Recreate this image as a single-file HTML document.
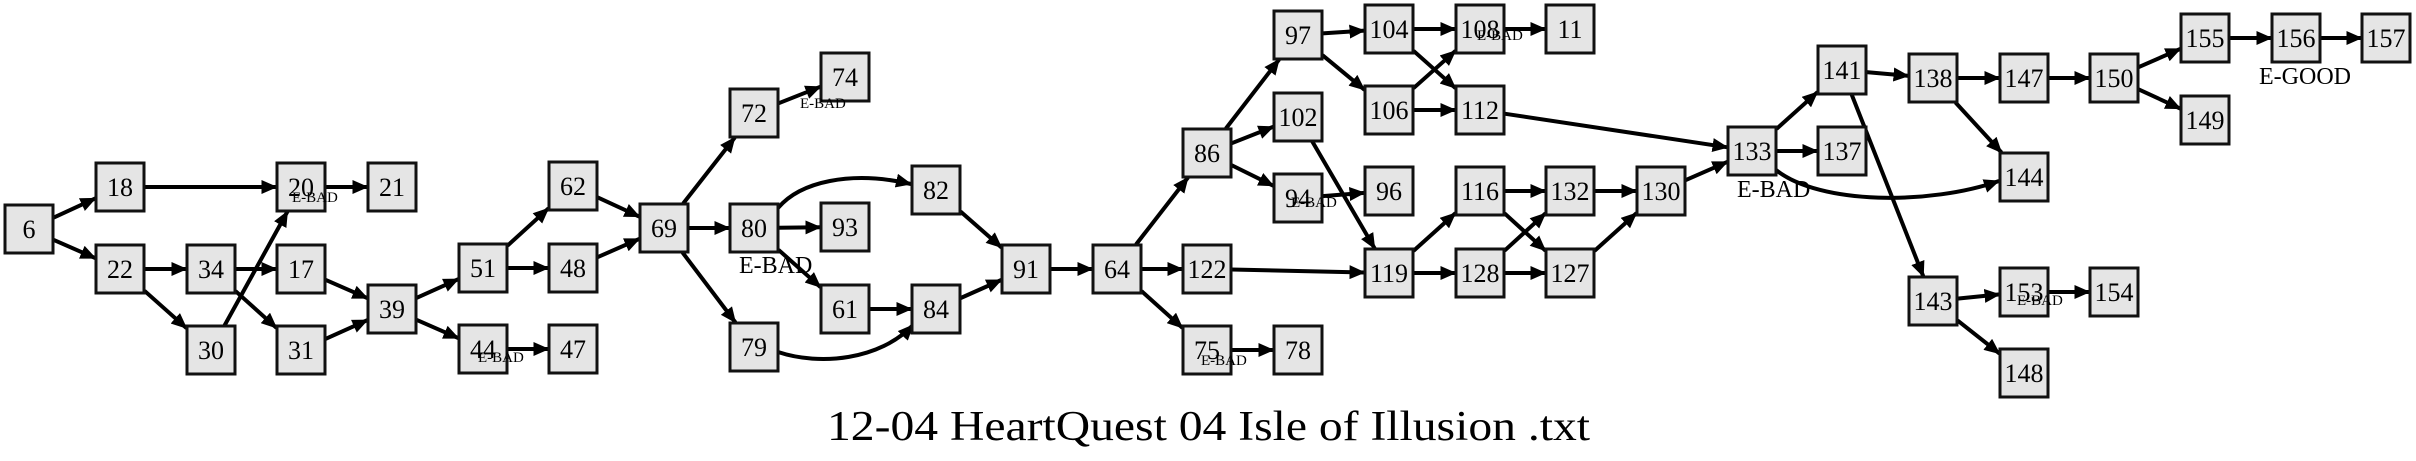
<!DOCTYPE html>
<html><head><meta charset="utf-8"><style>
html,body{margin:0;padding:0;background:#fff;}
svg{display:block;}
text{font-family:"Liberation Serif",serif;fill:#000;}
</style></head><body>
<svg id="g" width="2416" height="461" viewBox="0 0 2416 461" xmlns="http://www.w3.org/2000/svg">
<defs><marker id="a" markerUnits="userSpaceOnUse" markerWidth="16" markerHeight="14" refX="15" refY="7" orient="auto"><path d="M0,0 L16,7 L0,14 z" fill="#000"/></marker></defs>
<g id="edges" stroke="#000" stroke-width="4" fill="none"></g>
<g id="nodes"></g>
<g id="labels" font-size="15">
<text x="292" y="202">E-BAD</text>
<text x="478" y="362">E-BAD</text>
<text x="800" y="108">E-BAD</text>
<text x="1291" y="207">E-BAD</text>
<text x="1477" y="40">E-BAD</text>
<text x="1201" y="365">E-BAD</text>
<text x="2017" y="305">E-BAD</text>
</g>
<text x="739" y="273" font-size="24">E-BAD</text>
<text x="1737" y="197" font-size="24">E-BAD</text>
<text x="2259" y="84" font-size="24">E-GOOD</text>
<text x="827" y="440" font-size="42" textLength="763" lengthAdjust="spacingAndGlyphs">12-04 HeartQuest 04 Isle of Illusion .txt</text>
</svg>
<script>
var N={
"6":[29,229],"18":[120,187],"22":[120,269],"20":[301,187],"21":[392,187],"34":[211,269],"17":[301,269],
"30":[211,350],"31":[301,350],"39":[392,309],"51":[483,268],"62":[573,186],"48":[573,268],"44":[483,349],
"47":[573,349],"69":[664,228],"72":[754,113],"80":[754,228],"79":[754,347],"74":[845,77],"93":[845,227],
"61":[845,309],"82":[936,190],"84":[936,309],"91":[1026,269],"64":[1117,269],"122":[1207,269],"86":[1207,153],
"75":[1207,350],"78":[1298,350],"97":[1298,35],"102":[1298,117],"94":[1298,198],"104":[1389,29],"106":[1389,110],
"96":[1389,191],"119":[1389,273],"108":[1480,29],"11":[1570,29],"112":[1480,110],"116":[1480,191],"128":[1480,273],
"132":[1570,191],"127":[1570,273],"130":[1661,191],"133":[1752,151],"137":[1842,151],"141":[1842,70],"138":[1933,78],
"147":[2024,78],"150":[2114,78],"144":[2024,177],"155":[2205,38],"156":[2296,38],"157":[2386,38],"149":[2205,120],
"143":[1933,301],"153":[2024,292],"154":[2114,292],"148":[2024,373]};
var E=[["6","18"],["6","22"],["18","20"],["20","21"],["22","34"],["22","30"],["34","17"],["34","31"],["30","20"],
["17","39"],["31","39"],["39","51"],["39","44"],["44","47"],["51","62"],["51","48"],["62","69"],["48","69"],
["69","72"],["69","80"],["69","79"],["72","74"],["80","93"],["80","61"],["61","84"],["82","91"],["84","91"],
["91","64"],["64","86"],["64","122"],["64","75"],["75","78"],["86","97"],["86","102"],["86","94"],["94","96"],
["102","119"],["97","104"],["97","106"],["104","108"],["104","112"],["106","108"],["106","112"],["108","11"],
["122","119"],["119","116"],["119","128"],["116","132"],["116","127"],["128","132"],["128","127"],["132","130"],
["127","130"],["130","133"],["112","133"],["133","141"],["133","137"],["141","138"],["141","143"],["138","147"],
["138","144"],["147","150"],["150","155"],["150","149"],["155","156"],["156","157"],["143","153"],["143","148"],["153","154"]];
var H=24.5,ns="http://www.w3.org/2000/svg";
function clip(c,d){var dx=d[0]-c[0],dy=d[1]-c[1];var t=Math.min(dx?H/Math.abs(dx):1e9,dy?H/Math.abs(dy):1e9);return [c[0]+dx*t,c[1]+dy*t];}
var eg=document.getElementById("edges"),ng=document.getElementById("nodes");
function path(d){var p=document.createElementNS(ns,"path");p.setAttribute("d",d);p.setAttribute("marker-end","url(#a)");eg.appendChild(p);}
E.forEach(function(e){var a=N[e[0]],b=N[e[1]];var p=clip(a,b),q=clip(b,a);path("M"+p[0]+","+p[1]+"L"+q[0]+","+q[1]);});
path("M778,208 C800,182 850,170 911,184");
path("M778,352 C820,366 880,360 913,325");
path("M1776,170 C1820,205 1930,205 1999,181");
for(var k in N){var c=N[k];var r=document.createElementNS(ns,"rect");
r.setAttribute("x",c[0]-24);r.setAttribute("y",c[1]-24);r.setAttribute("width",48);r.setAttribute("height",48);
r.setAttribute("fill","#e5e5e5");r.setAttribute("stroke","#111");r.setAttribute("stroke-width","3");ng.appendChild(r);
var t=document.createElementNS(ns,"text");t.setAttribute("x",c[0]);t.setAttribute("y",c[1]+9);t.setAttribute("font-size","26");
t.setAttribute("text-anchor","middle");t.textContent=k;ng.appendChild(t);}
</script>
</body></html>
